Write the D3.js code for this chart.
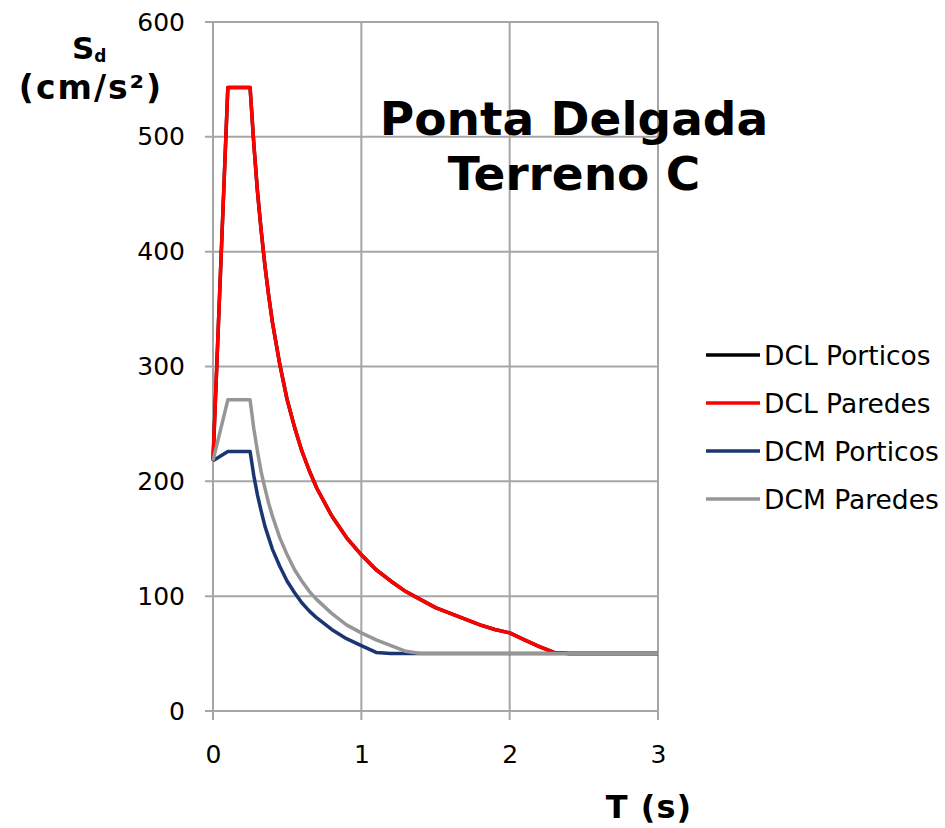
<!DOCTYPE html>
<html>
<head>
<meta charset="utf-8">
<script src="https://cdn.jsdelivr.net/npm/d3@7"></script>
<style>
  body { margin: 0; background: #fff; }
  svg { display: block; font-family: "DejaVu Sans", Verdana, sans-serif; }
</style>
</head>
<body>
<div id="visualization"></div>
<script>
// period T (s)
const periods = [0, 0.1, 0.25, 0.275, 0.3, 0.325, 0.35, 0.375, 0.4, 0.45, 0.5, 0.55,
    0.6, 0.65, 0.7, 0.8, 0.9, 1.0, 1.1, 1.2, 1.3, 1.4, 1.5, 1.6, 1.7, 1.8, 1.9,
    2.0, 2.1, 2.2, 2.3, 2.4, 2.5, 2.6, 2.7, 2.8, 2.9, 3.0];

const dclPorticos = [218, 543, 543, 494, 452, 418, 388, 362, 339, 302, 271, 247,
    226, 209, 194, 170, 151, 136, 123, 113, 104, 97, 90, 85, 80, 75, 71,
    68, 62, 56, 51, 50, 50, 50, 50, 50, 50, 50];
const dclParedes = [218, 543, 543, 494, 452, 418, 388, 362, 339, 302, 271, 247,
    226, 209, 194, 170, 151, 136, 123, 113, 104, 97, 90, 85, 80, 75, 71,
    68, 62, 56, 51, 50, 50, 50, 50, 50, 50, 50];
const dcmPorticos = [218, 226, 226, 205, 188, 174, 161, 151, 141, 126, 113, 103,
    94, 87, 81, 71, 63, 57, 51, 50, 50, 50, 50, 50, 50, 50, 50,
    50, 50, 50, 50, 50, 50, 50, 50, 50, 50, 50];
const dcmParedes = [218, 271, 271, 246, 226, 208, 194, 181, 170, 151, 136, 123,
    113, 104, 97, 85, 75, 68, 62, 57, 52, 50, 50, 50, 50, 50, 50,
    50, 50, 50, 50, 50, 50, 50, 50, 50, 50, 50];

const seriesNames = ['DCL Porticos', 'DCL Paredes', 'DCM Porticos', 'DCM Paredes'];
const seriesValues = [dclPorticos, dclParedes, dcmPorticos, dcmParedes];
const seriesColors = ['#000000', '#ff0000', '#1b3572', '#969696'];

const xTicks = [0, 1, 2, 3];
const yTicks = [0, 100, 200, 300, 400, 500, 600];
const titleLines = ['Ponta Delgada', 'Terreno C'];

const config = {
    width: 945,
    height: 828,
    plot: { left: 213, right: 658, top: 22, bottom: 711 },
    gridColor: '#a6a6a6'
};

const makeChart = () => {
    const svg = d3.select('#visualization').append('svg')
        .attr('width', config.width)
        .attr('height', config.height);

    const x = d3.scaleLinear()
        .domain([0, 3])
        .range([config.plot.left, config.plot.right]);
    const y = d3.scaleLinear()
        .domain([0, 600])
        .range([config.plot.bottom, config.plot.top]);

    // grid lines (extended past the axis as tick marks)
    svg.append('g').selectAll('line')
            .data(yTicks)
        .enter().append('line')
            .attr('x1', x(0) - 8).attr('x2', x(3))
            .attr('y1', d => y(d)).attr('y2', d => y(d))
            .attr('stroke', config.gridColor)
            .attr('stroke-width', 2);
    svg.append('g').selectAll('line')
            .data(xTicks)
        .enter().append('line')
            .attr('x1', d => x(d)).attr('x2', d => x(d))
            .attr('y1', y(600)).attr('y2', y(0) + 9)
            .attr('stroke', config.gridColor)
            .attr('stroke-width', 2);

    // y axis
    const yAxis = svg.append('g')
        .attr('transform', 'translate(' + x(0) + ',0)')
        .call(d3.axisLeft(y).tickValues(yTicks).tickSize(0).tickPadding(28));
    yAxis.select('.domain').remove();
    yAxis.selectAll('text')
        .attr('font-size', 25)
        .attr('font-family', '"DejaVu Sans", Verdana, sans-serif')
        .attr('fill', '#000');

    // x axis
    const xAxis = svg.append('g')
        .attr('transform', 'translate(0,' + y(0) + ')')
        .call(d3.axisBottom(x).tickValues(xTicks).tickFormat(d3.format('d'))
            .tickSize(0).tickPadding(34));
    xAxis.select('.domain').remove();
    xAxis.selectAll('text')
        .attr('font-size', 25)
        .attr('font-family', '"DejaVu Sans", Verdana, sans-serif')
        .attr('fill', '#000');

    // series
    const line = d3.line()
        .x(d => x(d[0]))
        .y(d => y(d[1]));
    seriesValues.forEach((values, i) => {
        svg.append('path')
            .datum(periods.map((t, j) => [t, values[j]]))
            .attr('d', line)
            .attr('fill', 'none')
            .attr('stroke', seriesColors[i])
            .attr('stroke-width', 3.5)
            .attr('stroke-linejoin', 'round');
    });

    // legend
    const legend = svg.append('g').selectAll('g')
            .data(seriesNames)
        .enter().append('g')
            .attr('transform', (d, i) => 'translate(706,' + (355 + i * 48) + ')');
    legend.append('line')
        .attr('x1', 0).attr('x2', 54)
        .attr('stroke', (d, i) => seriesColors[i])
        .attr('stroke-width', 3.5);
    legend.append('text')
        .attr('x', 58)
        .attr('dy', '0.36em')
        .attr('font-size', 26.5)
        .text(d => d);

    // title
    svg.append('text')
        .attr('text-anchor', 'middle')
        .attr('font-weight', 'bold')
        .attr('font-size', 47)
        .selectAll('tspan')
            .data(titleLines)
        .enter().append('tspan')
            .attr('x', 574)
            .attr('y', (d, i) => 135 + i * 55)
            .text(d => d);

    // y axis title
    const yTitle = svg.append('text')
        .attr('x', 72)
        .attr('y', 59)
        .attr('font-weight', 'bold')
        .attr('font-size', 31);
    yTitle.append('tspan').text('S');
    yTitle.append('tspan')
        .attr('font-size', 17)
        .attr('dy', 3)
        .text('d');
    svg.append('text')
        .attr('x', 91)
        .attr('y', 99)
        .attr('text-anchor', 'middle')
        .attr('font-weight', 'bold')
        .attr('font-size', 33)
        .attr('letter-spacing', 2)
        .text('(cm/s²)');

    // x axis title
    svg.append('text')
        .attr('x', 649)
        .attr('y', 818)
        .attr('text-anchor', 'middle')
        .attr('font-weight', 'bold')
        .attr('font-size', 32)
        .attr('letter-spacing', 1)
        .text('T (s)');
};

makeChart();
</script>
</body>
</html>
